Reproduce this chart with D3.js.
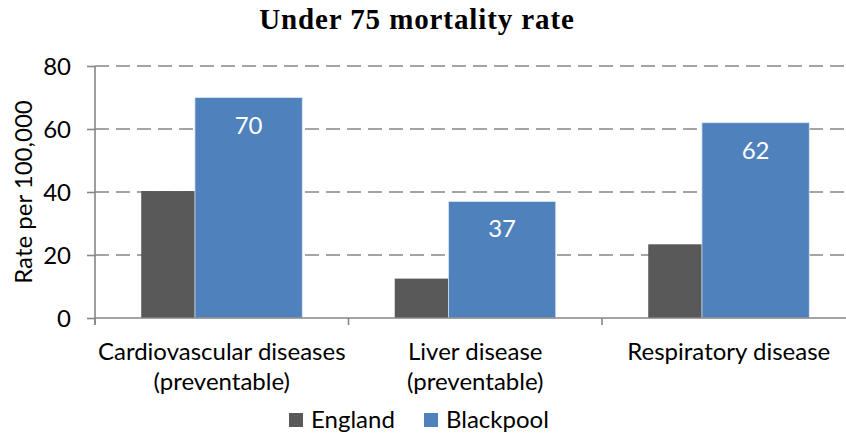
<!DOCTYPE html>
<html>
<head>
<meta charset="utf-8">
<script src="https://cdn.jsdelivr.net/npm/d3@7"></script>
<style>
  html, body { margin: 0; padding: 0; background: #fff; }
  svg { display: block; }
</style>
</head>
<body>
<svg id="chart" width="846" height="443"></svg>
<script>
const categories = [["Cardiovascular diseases", "(preventable)"], ["Liver disease", "(preventable)"], ["Respiratory disease"]];
const categoryKeys = ["Cardiovascular diseases (preventable)", "Liver disease (preventable)", "Respiratory disease"];
const seriesNames = ["England", "Blackpool"];
const englandValues = [40.3, 12.5, 23.4];
const blackpoolValues = [70, 37, 62];
const yTicks = [0, 20, 40, 60, 80];
const title = "Under 75 mortality rate";
const yTitle = "Rate per 100,000";
const colors = { England: "#595959", Blackpool: "#4F81BD" };

const svg = d3.select("#chart");
const axisFont = "Lato, 'Open Sans', sans-serif";
const fs = "24px";
const axisColor = "#868686";

const x = d3.scaleBand().domain(categoryKeys).range([95, 855.5]).paddingInner(0).paddingOuter(0);
const y = d3.scaleLinear().domain([0, 80]).range([318, 66]);
const bw = x.bandwidth();
const barW = bw * 0.4235;

// gridlines
svg.append("g").selectAll("line").data(yTicks.filter(t => t > 0)).join("line")
  .attr("x1", 95).attr("x2", 846)
  .attr("y1", d => y(d)).attr("y2", d => y(d))
  .attr("stroke", axisColor).attr("stroke-width", 1.6)
  .attr("stroke-dasharray", "14,7");

// bars
const groups = svg.append("g").selectAll("g").data(categoryKeys).join("g");
groups.append("rect")
  .attr("x", (d) => x(d) + bw / 2 - 0.75 * barW)
  .attr("y", (d, i) => y(englandValues[i]))
  .attr("width", barW)
  .attr("height", (d, i) => y(0) - y(englandValues[i]))
  .attr("fill", colors.England);
groups.append("rect")
  .attr("x", (d) => x(d) + bw / 2 - 0.25 * barW)
  .attr("y", (d, i) => y(blackpoolValues[i]))
  .attr("width", barW)
  .attr("height", (d, i) => y(0) - y(blackpoolValues[i]))
  .attr("fill", colors.Blackpool)
  .attr("stroke", "#dfe8f3").attr("stroke-width", 0.8);
groups.append("text")
  .attr("x", (d) => x(d) + bw / 2 + 0.25 * barW)
  .attr("y", (d, i) => y(blackpoolValues[i]) + 36)
  .attr("text-anchor", "middle")
  .attr("fill", "#fff")
  .style("font-family", axisFont).style("font-size", fs)
  .text((d, i) => d3.format("d")(blackpoolValues[i]));

// y axis
const yAxis = d3.axisLeft(y).tickValues(yTicks).tickSize(8).tickPadding(16).tickSizeOuter(0);
const gy = svg.append("g").attr("transform", "translate(95,0)").call(yAxis);
gy.select(".domain").remove();
gy.append("line").attr("x1", 0).attr("x2", 0).attr("y1", 66).attr("y2", 325).attr("stroke", axisColor).attr("stroke-width", 1.6);
gy.selectAll(".tick line").attr("stroke", axisColor).attr("stroke-width", 1.6);
gy.selectAll(".tick text").attr("fill", "#000").attr("dy", "0.36em")
  .style("font-family", axisFont).style("font-size", fs);

// x axis
const gx = svg.append("g");
gx.append("line").attr("x1", 95).attr("x2", 846).attr("y1", 318).attr("y2", 318)
  .attr("stroke", axisColor).attr("stroke-width", 1.6);
const xTickPos = categoryKeys.map(k => x(k)).concat([x(categoryKeys[categoryKeys.length - 1]) + bw]);
gx.selectAll("line.tk").data(xTickPos).join("line").attr("class", "tk")
  .attr("x1", d => d).attr("x2", d => d).attr("y1", 318).attr("y2", 325)
  .attr("stroke", axisColor).attr("stroke-width", 1.6);
const lbl = gx.selectAll("text.cat").data(categoryKeys).join("text").attr("class", "cat")
  .attr("text-anchor", "middle")
  .style("font-family", axisFont).style("font-size", fs).attr("fill", "#000");
lbl.each(function(d, i) {
  const t = d3.select(this);
  categories[i].forEach((line, j) => {
    t.append("tspan").attr("x", x(d) + bw / 2).attr("y", 360 + j * 30).text(line);
  });
});

// title
svg.append("text").attr("x", 417).attr("y", 29).attr("text-anchor", "middle")
  .style("font-family", "'Liberation Serif', 'DejaVu Serif', serif").style("font-weight", "bold")
  .style("font-size", "29px").style("letter-spacing", "0.9px")
  .text(title);

// y title
svg.append("text").attr("transform", "translate(32,192) rotate(-90)").attr("text-anchor", "middle")
  .style("font-family", axisFont).style("font-size", fs)
  .text(yTitle);

// legend
const legendX = [289, 424];
const lg = svg.append("g").selectAll("g").data(seriesNames).join("g")
  .attr("transform", (d, i) => `translate(${legendX[i]},413)`);
lg.append("rect").attr("width", 14).attr("height", 14).attr("fill", d => colors[d]);
lg.append("text").attr("x", 22).attr("y", 15)
  .style("font-family", axisFont).style("font-size", fs).text(d => d);
</script>
</body>
</html>
